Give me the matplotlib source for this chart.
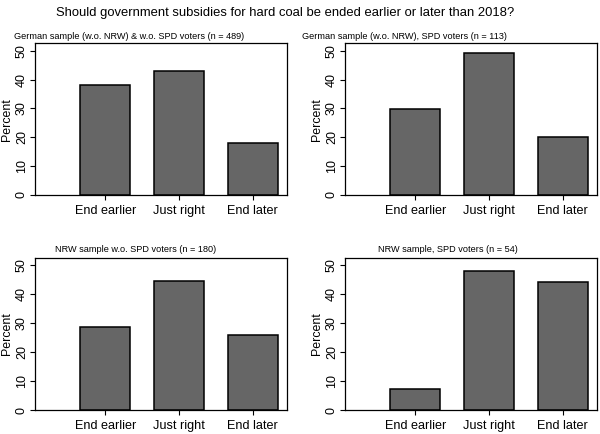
import matplotlib
matplotlib.use("Agg")
import matplotlib.pyplot as plt

categories = ["End earlier", "Just right", "End later"]
titles = [
    "German sample (w.o. NRW) & w.o. SPD voters (n = 489)",
    "German sample (w.o. NRW), SPD voters (n = 113)",
    "NRW sample w.o. SPD voters (n = 180)",
    "NRW sample, SPD voters (n = 54)",
]
vals_p1 = [38.1, 42.9, 18.2]
vals_p2 = [29.8, 49.3, 20.0]
vals_p3 = [28.6, 44.7, 25.9]
vals_p4 = [7.2, 47.9, 44.2]
yticks = [0, 10, 20, 30, 40, 50]
main_title = "Should government subsidies for hard coal be ended earlier or later than 2018?"

plt.rcParams['font.family'] = ['Liberation Sans', 'DejaVu Sans']

fig = plt.figure(figsize=(6.0, 4.34), dpi=100)
W, H = 600.0, 434.0

# axes boxes in pixels: left, top, right, bottom
boxes = [(35, 43.3, 287, 195), (345, 43.3, 597, 195),
         (35, 257.7, 287, 410), (345, 257.7, 597, 410)]
title_pos = [(14, 36.5), (302, 36.5), (55, 250), (378, 250)]
series = [vals_p1, vals_p2, vals_p3, vals_p4]

for (l, t, r, b), vals, ttl, (tx, ty) in zip(boxes, series, titles, title_pos):
    ax = fig.add_axes([l / W, 1 - b / H, (r - l) / W, (b - t) / H])
    x = [1, 2, 3]
    ax.bar(x, vals, width=0.68, color="#666666", edgecolor="black", linewidth=1.1)
    ax.set_xlim(0.045, 3.465)
    ax.set_ylim(0, 52.6)
    ax.set_xticks(x)
    ax.set_xticklabels(categories, fontsize=9.1)
    ax.set_yticks(yticks)
    ax.set_yticklabels([str(v) for v in yticks], rotation=90, va="center", fontsize=9.0)
    ax.set_ylabel("Percent", fontsize=8.9, labelpad=2)
    ax.tick_params(axis="both", direction="out", length=3.6, width=0.8, colors="black")
    ax.tick_params(axis="x", pad=3.6)
    ax.tick_params(axis="y", pad=1.5)
    for s in ax.spines.values():
        s.set_linewidth(0.9)
        s.set_color("black")
    fig.text(tx / W, 1 - ty / H, ttl, fontsize=6.6, ha="left", va="center")

fig.text(285 / W, 1 - 13 / H, main_title, fontsize=9.4, ha="center", va="center")

fig.savefig("out.png", dpi=100, facecolor="white")
